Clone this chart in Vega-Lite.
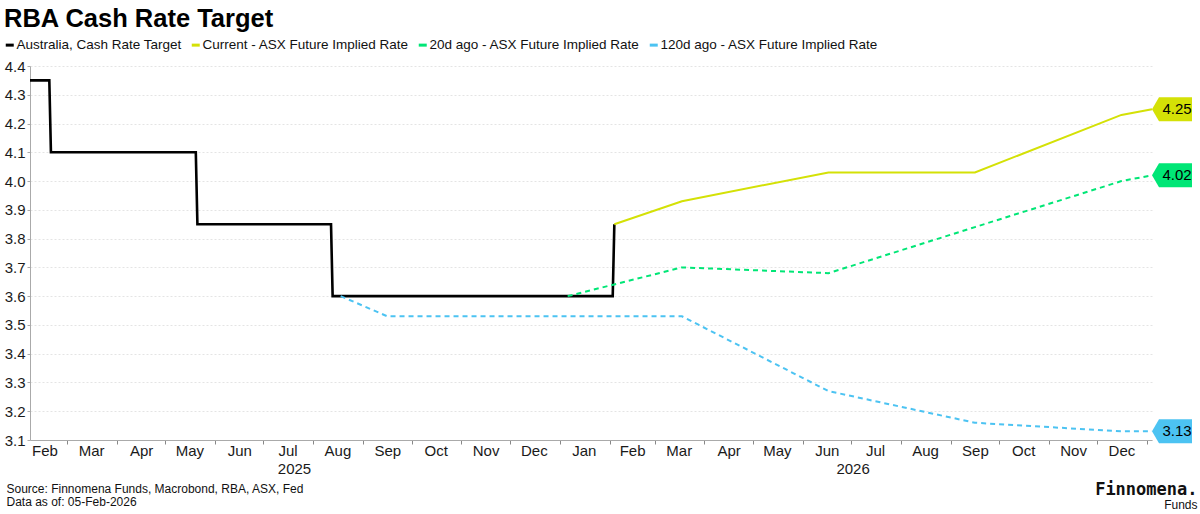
{
  "$schema": "https://vega.github.io/schema/vega-lite/v6.json",
  "width": 1122,
  "height": 374,
  "autosize": {"type": "none"},
  "padding": {"left": 30, "top": 66, "right": 48, "bottom": 74},
  "background": "white",
  "title": {
    "text": "RBA Cash Rate Target",
    "anchor": "start",
    "frame": "group",
    "dx": -26,
    "offset": 6,
    "font": "Liberation Sans",
    "fontSize": 25.5,
    "fontWeight": "bold",
    "color": "#000000"
  },
  "data": {
    "values": [
      {"series": "Australia, Cash Rate Target", "date": "2025-02-06", "value": 4.35},
      {"series": "Australia, Cash Rate Target", "date": "2025-02-18", "value": 4.35},
      {"series": "Australia, Cash Rate Target", "date": "2025-02-19", "value": 4.10},
      {"series": "Australia, Cash Rate Target", "date": "2025-05-20", "value": 4.10},
      {"series": "Australia, Cash Rate Target", "date": "2025-05-21", "value": 3.85},
      {"series": "Australia, Cash Rate Target", "date": "2025-08-12", "value": 3.85},
      {"series": "Australia, Cash Rate Target", "date": "2025-08-13", "value": 3.60},
      {"series": "Australia, Cash Rate Target", "date": "2026-02-03", "value": 3.60},
      {"series": "Australia, Cash Rate Target", "date": "2026-02-04", "value": 3.85},

      {"series": "Current - ASX Future Implied Rate", "date": "2026-02-04", "value": 3.85},
      {"series": "Current - ASX Future Implied Rate", "date": "2026-03-18", "value": 3.93},
      {"series": "Current - ASX Future Implied Rate", "date": "2026-06-17", "value": 4.03},
      {"series": "Current - ASX Future Implied Rate", "date": "2026-09-16", "value": 4.03},
      {"series": "Current - ASX Future Implied Rate", "date": "2026-12-16", "value": 4.23},
      {"series": "Current - ASX Future Implied Rate", "date": "2027-01-04", "value": 4.25},

      {"series": "20d ago - ASX Future Implied Rate", "date": "2026-01-06", "value": 3.60},
      {"series": "20d ago - ASX Future Implied Rate", "date": "2026-03-18", "value": 3.70},
      {"series": "20d ago - ASX Future Implied Rate", "date": "2026-06-17", "value": 3.68},
      {"series": "20d ago - ASX Future Implied Rate", "date": "2026-09-16", "value": 3.84},
      {"series": "20d ago - ASX Future Implied Rate", "date": "2026-12-16", "value": 4.00},
      {"series": "20d ago - ASX Future Implied Rate", "date": "2027-01-04", "value": 4.02},

      {"series": "120d ago - ASX Future Implied Rate", "date": "2025-08-18", "value": 3.60},
      {"series": "120d ago - ASX Future Implied Rate", "date": "2025-09-16", "value": 3.53},
      {"series": "120d ago - ASX Future Implied Rate", "date": "2025-12-16", "value": 3.53},
      {"series": "120d ago - ASX Future Implied Rate", "date": "2026-03-18", "value": 3.53},
      {"series": "120d ago - ASX Future Implied Rate", "date": "2026-06-17", "value": 3.27},
      {"series": "120d ago - ASX Future Implied Rate", "date": "2026-09-16", "value": 3.16},
      {"series": "120d ago - ASX Future Implied Rate", "date": "2026-12-16", "value": 3.13},
      {"series": "120d ago - ASX Future Implied Rate", "date": "2027-01-04", "value": 3.13}
    ]
  },
  "encoding": {
    "y": {
      "field": "value",
      "type": "quantitative",
      "scale": {"domain": [3.1, 4.4], "nice": false, "zero": false},
      "axis": {
        "values": [3.1, 3.2, 3.3, 3.4, 3.5, 3.6, 3.7, 3.8, 3.9, 4.0, 4.1, 4.2, 4.3, 4.4],
        "format": ".1f",
        "labelOverlap": false,
        "labelFlush": false,
        "grid": true,
        "gridColor": "#e4e4e4",
        "gridDash": [2, 2],
        "domainColor": "#aaaaaa",
        "tickColor": "#aaaaaa",
        "tickSize": 3,
        "labelPadding": 2,
        "labelFont": "Liberation Sans",
        "labelFontSize": 15,
        "labelColor": "#1a1a1a",
        "title": "Funds",
        "titleFont": "Liberation Sans",
        "titleFontSize": 12,
        "titleFontWeight": "normal",
        "titleColor": "#111111",
        "titleAngle": 0,
        "titleAlign": "right",
        "titleBaseline": "alphabetic",
        "titleX": 1167,
        "titleY": 442
      }
    }
  },
  "resolve": {"axis": {"x": "independent"}},
  "layer": [
    {
      "transform": [{"filter": "datum.series == 'Australia, Cash Rate Target'"}],
      "mark": {"type": "line", "strokeWidth": 2.6, "strokeJoin": "miter"},
      "encoding": {
        "x": {
          "field": "date",
          "type": "temporal",
          "scale": {
            "type": "utc",
            "domain": [
              {"year": 2025, "month": 2, "date": 6, "utc": true},
              {"year": 2027, "month": 1, "date": 4, "utc": true}
            ]
          },
          "axis": {
            "orient": "bottom",
            "values": [
              {"year": 2025, "month": 3, "date": 1, "utc": true},
              {"year": 2025, "month": 4, "date": 1, "utc": true},
              {"year": 2025, "month": 5, "date": 1, "utc": true},
              {"year": 2025, "month": 6, "date": 1, "utc": true},
              {"year": 2025, "month": 7, "date": 1, "utc": true},
              {"year": 2025, "month": 8, "date": 1, "utc": true},
              {"year": 2025, "month": 9, "date": 1, "utc": true},
              {"year": 2025, "month": 10, "date": 1, "utc": true},
              {"year": 2025, "month": 11, "date": 1, "utc": true},
              {"year": 2025, "month": 12, "date": 1, "utc": true},
              {"year": 2026, "month": 1, "date": 1, "utc": true},
              {"year": 2026, "month": 2, "date": 1, "utc": true},
              {"year": 2026, "month": 3, "date": 1, "utc": true},
              {"year": 2026, "month": 4, "date": 1, "utc": true},
              {"year": 2026, "month": 5, "date": 1, "utc": true},
              {"year": 2026, "month": 6, "date": 1, "utc": true},
              {"year": 2026, "month": 7, "date": 1, "utc": true},
              {"year": 2026, "month": 8, "date": 1, "utc": true},
              {"year": 2026, "month": 9, "date": 1, "utc": true},
              {"year": 2026, "month": 10, "date": 1, "utc": true},
              {"year": 2026, "month": 11, "date": 1, "utc": true},
              {"year": 2026, "month": 12, "date": 1, "utc": true},
              {"year": 2027, "month": 1, "date": 1, "utc": true}
            ],
            "labels": false,
            "grid": false,
            "domain": true,
            "domainColor": "#aaaaaa",
            "ticks": true,
            "tickColor": "#888888",
            "tickSize": 4,
            "title": "Finnomena.",
            "titleFont": "DejaVu Sans Mono",
            "titleFontSize": 17,
            "titleFontWeight": "bold",
            "titleColor": "#111111",
            "titleAlign": "right",
            "titleBaseline": "alphabetic",
            "titleX": 1167,
            "titleY": 54
          }
        },
        "color": {
          "field": "series",
          "type": "nominal",
          "scale": {
            "domain": [
              "Australia, Cash Rate Target",
              "Current - ASX Future Implied Rate",
              "20d ago - ASX Future Implied Rate",
              "120d ago - ASX Future Implied Rate"
            ],
            "range": ["#000000", "#d4e106", "#00e676", "#4cc3f2"]
          },
          "legend": {
            "orient": "none",
            "legendX": -27,
            "legendY": -28,
            "direction": "horizontal",
            "columns": 4,
            "title": null,
            "symbolType": "stroke",
            "symbolSize": 64,
            "symbolStrokeWidth": 3,
            "labelFont": "Liberation Sans",
            "labelFontSize": 13.5,
            "labelColor": "#111111",
            "labelLimit": 400,
            "labelOffset": 0,
            "columnPadding": 3
          }
        }
      }
    },
    {
      "transform": [{"filter": "datum.series == 'Current - ASX Future Implied Rate'"}],
      "mark": {"type": "line", "strokeWidth": 2},
      "encoding": {
        "x": {"field": "date", "type": "temporal", "axis": null},
        "color": {"field": "series", "type": "nominal", "legend": null}
      }
    },
    {
      "transform": [{"filter": "indexof(datum.series, 'ago') >= 0"}],
      "mark": {"type": "line", "strokeWidth": 2, "strokeDash": [5, 4]},
      "encoding": {
        "x": {
          "field": "date",
          "type": "temporal",
          "axis": {
            "orient": "bottom",
            "values": [
              {"year": 2025, "month": 2, "date": 15, "utc": true},
              {"year": 2025, "month": 3, "date": 16, "utc": true},
              {"year": 2025, "month": 4, "date": 16, "utc": true},
              {"year": 2025, "month": 5, "date": 16, "utc": true},
              {"year": 2025, "month": 6, "date": 16, "utc": true},
              {"year": 2025, "month": 7, "date": 16, "utc": true},
              {"year": 2025, "month": 8, "date": 16, "utc": true},
              {"year": 2025, "month": 9, "date": 16, "utc": true},
              {"year": 2025, "month": 10, "date": 16, "utc": true},
              {"year": 2025, "month": 11, "date": 16, "utc": true},
              {"year": 2025, "month": 12, "date": 16, "utc": true},
              {"year": 2026, "month": 1, "date": 16, "utc": true},
              {"year": 2026, "month": 2, "date": 15, "utc": true},
              {"year": 2026, "month": 3, "date": 16, "utc": true},
              {"year": 2026, "month": 4, "date": 16, "utc": true},
              {"year": 2026, "month": 5, "date": 16, "utc": true},
              {"year": 2026, "month": 6, "date": 16, "utc": true},
              {"year": 2026, "month": 7, "date": 16, "utc": true},
              {"year": 2026, "month": 8, "date": 16, "utc": true},
              {"year": 2026, "month": 9, "date": 16, "utc": true},
              {"year": 2026, "month": 10, "date": 16, "utc": true},
              {"year": 2026, "month": 11, "date": 16, "utc": true},
              {"year": 2026, "month": 12, "date": 16, "utc": true},
              {"year": 2025, "month": 7, "date": 20, "utc": true},
              {"year": 2026, "month": 7, "date": 2, "utc": true}
            ],
            "labelExpr": "utcdate(datum.value) == 15 || utcdate(datum.value) == 16 ? utcFormat(datum.value, '%b') : ['', utcFormat(datum.value, '%Y')]",
            "labelOverlap": false,
            "labelFlush": false,
            "labelFont": "Liberation Sans",
            "labelFontSize": 15,
            "labelColor": "#1a1a1a",
            "labelLineHeight": 18,
            "labelPadding": 3,
            "labelBaseline": "top",
            "domain": false,
            "ticks": false,
            "grid": false,
            "title": ["Source: Finnomena Funds, Macrobond, RBA, ASX, Fed", "Data as of: 05-Feb-2026"],
            "titleFont": "Liberation Sans",
            "titleFontSize": 12,
            "titleFontWeight": "normal",
            "titleColor": "#111111",
            "titleLineHeight": 13,
            "titleAlign": "left",
            "titleBaseline": "top",
            "titleX": -24,
            "titleY": 43
          }
        },
        "color": {"field": "series", "type": "nominal", "legend": null}
      }
    },
    {
      "transform": [{"filter": "utcyear(datum.date) == 2027"}],
      "mark": {
        "type": "point",
        "shape": "M0,0L0.35,-0.6L2,-0.6L2,0.6L0.35,0.6Z",
        "size": 1600,
        "filled": true,
        "opacity": 1,
        "strokeWidth": 0
      },
      "encoding": {
        "x": {"field": "date", "type": "temporal", "axis": null},
        "color": {"field": "series", "type": "nominal", "legend": null}
      }
    },
    {
      "transform": [{"filter": "utcyear(datum.date) == 2027"}],
      "mark": {
        "type": "text",
        "dx": 25,
        "align": "center",
        "baseline": "middle",
        "font": "Liberation Sans",
        "fontSize": 15,
        "color": "#000000"
      },
      "encoding": {
        "x": {"field": "date", "type": "temporal", "axis": null},
        "text": {"field": "value", "type": "quantitative", "format": ".2f"}
      }
    }
  ],
  "config": {
    "view": {"stroke": null},
    "font": "Liberation Sans",
    "axisY": {"labelOverlap": false}
  }
}
